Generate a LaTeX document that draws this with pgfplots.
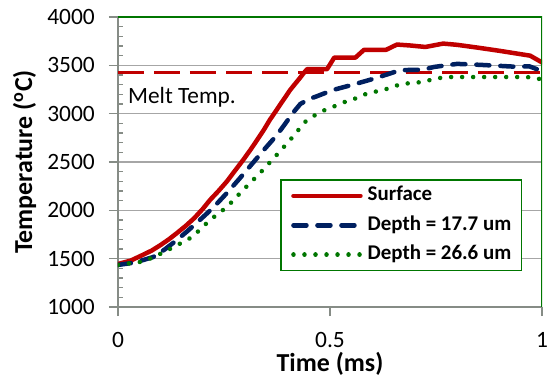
\documentclass[border=0pt]{standalone}
\usepackage{pgfplots}
\pgfplotsset{compat=1.18}
\usepackage{fontspec}
\setmainfont{Carlito}
\definecolor{cred}{RGB}{192,0,0}
\definecolor{cblue}{RGB}{0,32,96}
\definecolor{cgreen}{RGB}{0,118,0}
\definecolor{cgrid}{RGB}{166,166,166}
\definecolor{caxis}{RGB}{134,140,134}
\begin{document}
\begin{tikzpicture}
\begin{axis}[
  at={(0,0)}, anchor=south west,
  scale only axis, width=424bp, height=290bp,
  xmin=0, xmax=1, ymin=1000, ymax=4000,
  xtick={0,0.5,1}, ytick={1000,1500,...,4000},
  axis x line*=bottom, axis y line*=left,
  axis line style={caxis, line width=2.5bp},
  tick style={draw=caxis, line width=1.6bp},
  xtick align=outside, ytick align=outside,
  major tick length=9bp,
  ymajorgrids,
  major grid style={cgrid, line width=1.4bp},
  /pgf/number format/assume math mode=true,
  /pgf/number format/1000 sep={},
  ticklabel style={font=\fontsize{23.5}{24}\selectfont, inner sep=0pt},
  yticklabel style={xshift=-14bp},
  xticklabel style={yshift=-16bp},
  xlabel={\textbf{Time (ms)}},
  ylabel={\textbf{Temperature (\textsuperscript{o}C)}},
  xlabel style={font=\fontsize{26}{28}\selectfont, at={(axis description cs:0.5,-0.2241)}, anchor=base, inner sep=0pt},
  ylabel style={font=\fontsize{26}{28}\selectfont, at={(axis description cs:-0.2028,0.5)}, anchor=base, inner sep=0pt},
  legend cell align=left,
  legend image code/.code={\draw[#1] (0bp,0bp) -- (67bp,0bp);},
  legend style={at={(axis description cs:0.953,0.441)}, anchor=north east,
    draw=cgreen, line width=1.5bp, fill=white,
    font=\bfseries\fontsize{21}{24}\selectfont,
    inner xsep=10bp, inner ysep=7bp, row sep=11.4bp, column sep=5bp,
    nodes={inner sep=0pt, text height=14bp, text depth=4bp}},
]
\pgfplotsinvokeforeach{1000,1500,2000,2500,3000,3500,4000}{
  \draw[caxis, line width=1.6bp] (axis cs:0,#1) -- ++(-8bp,0bp);}
\pgfplotsinvokeforeach{1100,1200,1300,1400,1600,1700,1800,1900,2100,2200,2300,2400,2600,2700,2800,2900,3100,3200,3300,3400,3600,3700,3800,3900}{
  \draw[caxis, line width=1.6bp] (axis cs:0,#1) -- ++(5bp,0bp);}
\pgfplotsinvokeforeach{0,0.5,1}{
  \draw[caxis, line width=1.6bp] (axis cs:#1,1000) -- ++(0bp,-8bp);}
\addplot[cred, line width=3bp, dash pattern=on 26bp off 10bp, forget plot] coordinates {(0,3430) (1,3430)};
\addplot[cred, line width=4.5bp, line join=round, line cap=round] coordinates {
(0,1445) (0.03,1480) (0.059,1540) (0.08,1585) (0.1,1640) (0.12,1700) (0.139,1765)
(0.16,1840) (0.18,1920) (0.2,2015) (0.217,2107) (0.237,2200)
(0.257,2300) (0.275,2405) (0.295,2520) (0.313,2630) (0.33,2740) (0.345,2840)
(0.358,2935) (0.372,3025) (0.385,3110) (0.396,3180) (0.406,3245)
(0.418,3310) (0.429,3369) (0.438,3420) (0.446,3460) (0.493,3460) (0.51,3580) (0.56,3580) (0.58,3660)
(0.632,3660) (0.658,3715) (0.69,3705) (0.725,3690) (0.767,3725) (0.8,3712)
(0.85,3682) (0.9,3650) (0.972,3600) (1.0,3530)};
\addplot[cblue, line width=4.5bp, dash pattern=on 13bp off 11bp, line cap=round, line join=round] coordinates {
(0,1435) (0.04,1460) (0.083,1517) (0.11,1595) (0.139,1693) (0.165,1790) (0.193,1900)
(0.225,2030) (0.257,2180) (0.288,2335) (0.318,2490)
(0.347,2640) (0.375,2780) (0.395,2900) (0.413,3010) (0.43,3100) (0.45,3150) (0.469,3180) (0.507,3245) (0.554,3300)
(0.61,3370) (0.665,3450) (0.72,3455) (0.745,3483) (0.8,3515) (0.854,3505)
(0.94,3485) (0.97,3490) (1.0,3440)};
\addplot[cgreen, line width=4.5bp, dash pattern=on 0.01bp off 11bp, line cap=round, line join=round] coordinates {
(0,1435) (0.052,1466) (0.08,1507) (0.127,1610) (0.175,1724) (0.217,1900)
(0.257,2035) (0.295,2210) (0.335,2386) (0.37,2552) (0.406,2728) (0.441,2914)
(0.465,2986) (0.488,3038) (0.512,3079) (0.54,3131) (0.564,3162) (0.59,3214)
(0.616,3235) (0.642,3266) (0.667,3307) (0.693,3317) (0.719,3328) (0.745,3359)
(0.773,3379) (0.965,3379) (1.0,3355)};
\legend{Surface, Depth = 17.7 um, Depth = 26.6 um}
\node[anchor=base west, inner sep=0pt, font=\fontsize{23.4}{24}\selectfont] at (axis cs:0.0236,3100) {Melt Temp.};
\draw[cgreen, line width=1.5bp] (rel axis cs:0,1) -- (rel axis cs:1,1) -- (rel axis cs:1,0);
\end{axis}
\pgfresetboundingbox
\path (-118bp,-72bp) rectangle (430bp,307bp);
\end{tikzpicture}
\end{document}
